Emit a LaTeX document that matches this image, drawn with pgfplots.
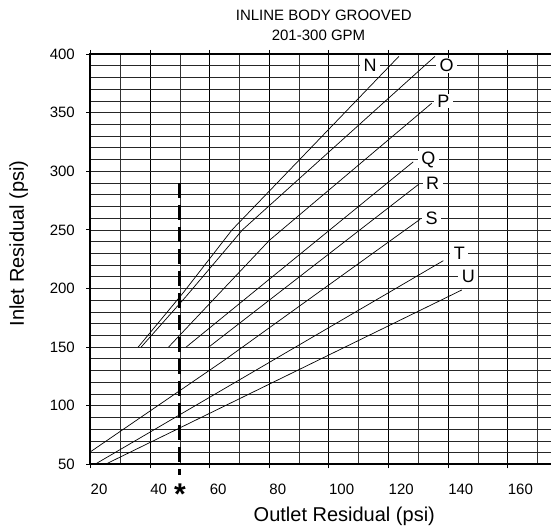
\documentclass[border=0pt]{standalone}
\usepackage{fontspec}
\setmainfont{Liberation Sans}
\usepackage{pgfplots}
\pgfplotsset{compat=1.18}
\begin{document}
\begin{tikzpicture}[x=1pt,y=1pt]
\useasboundingbox (-90.5pt,-62.7pt) rectangle (460.5pt,464.3pt);
\begin{axis}[
  scale only axis, width=460.4pt, height=410.3pt,
  at={(0pt,0pt)}, anchor=south west,
  xmin=20, xmax=174.5, ymin=50, ymax=400,
  clip=false,
  axis line style={draw=none},
  xtick={20,40,...,160}, minor xtick={30,50,...,170},
  ytick={50,100,...,400}, minor ytick={60,70,...,390},
  grid=both,
  major x grid style={black, line width=1.0pt},
  minor x grid style={black!80, line width=0.6pt},
  major y grid style={black!85, line width=0.6pt},
  minor y grid style={black!85, line width=0.6pt},
  tick align=outside, major tick length=4pt, minor tick length=0pt,
  tick style={black, line width=0.9pt},
  /pgf/number format/assume math mode=true,
  ticklabel style={font=\fontsize{15}{15}\selectfont},
  xticklabel style={anchor=north west, inner sep=0pt, yshift=-16pt, xshift=0pt},
  yticklabel style={anchor=east, inner sep=0pt, xshift=-11.5pt},
]
% N
\addplot[black, line width=0.7pt] coordinates {(36,150) (51,196) (67.5,250) (123.5,398)};
% O
\addplot[black, line width=0.7pt] coordinates {(37,150) (52,193) (71,250) (135.6,398)};
% P
\addplot[black, line width=0.7pt] coordinates {(46.2,150) (80,241) (134.5,358)};
% Q
\addplot[black, line width=0.7pt] coordinates {(52.1,150) (128.3,308)};
% R
\addplot[black, line width=0.7pt] coordinates {(59.7,150) (130.2,289)};
% S
\addplot[black, line width=0.7pt] coordinates {(20,60.7) (65,139) (130.6,259)};
% T
\addplot[black, line width=0.7pt] coordinates {(21.5,50) (138.4,223.7)};
% U
\addplot[black, line width=0.7pt] coordinates {(25,50) (144.6,198.7)};
% dashed reference
\addplot[black, line width=3pt, dash pattern=on 15pt off 7pt] coordinates {(50,290) (50,41)};
% borders
\draw[black, line width=2pt] (axis cs:20,400) -- (axis cs:174.5,400);
\draw[black, line width=2pt] (axis cs:20,401) -- (axis cs:20,49);
\draw[black, line width=2pt] (axis cs:19.7,50) -- (axis cs:174.5,50);
% curve letters
\tikzset{lbl/.style={fill=white, inner xsep=3.5pt, inner ysep=1pt, font=\fontsize{18}{18}\selectfont}}
\node[lbl] at (axis cs:113.8,390) {N};
\node[lbl] at (axis cs:139.5,390) {O};
\node[lbl] at (axis cs:138.4,360) {P};
\node[lbl] at (axis cs:133.4,310) {Q};
\node[lbl] at (axis cs:134.8,290) {R};
\node[lbl] at (axis cs:134.5,260) {S};
\node[lbl] at (axis cs:143.8,230) {T};
\node[lbl] at (axis cs:146.8,210) {U};
\end{axis}
\node[anchor=base, font=\fontsize{30}{30}\selectfont\bfseries] at (89.4pt,-40pt) {*};
\node[anchor=base, font=\fontsize{20}{20}\selectfont] at (253.8pt,-56.7pt) {Outlet Residual (psi)};
\node[anchor=base, rotate=90, font=\fontsize{20}{20}\selectfont] at (-66.5pt,220.8pt) {Inlet Residual (psi)};
\node[anchor=base, font=\fontsize{15}{15}\selectfont] at (233.3pt,443.6pt) {INLINE BODY GROOVED};
\node[anchor=base, font=\fontsize{15}{15}\selectfont] at (228pt,423.6pt) {201-300 GPM};
\end{tikzpicture}
\end{document}
